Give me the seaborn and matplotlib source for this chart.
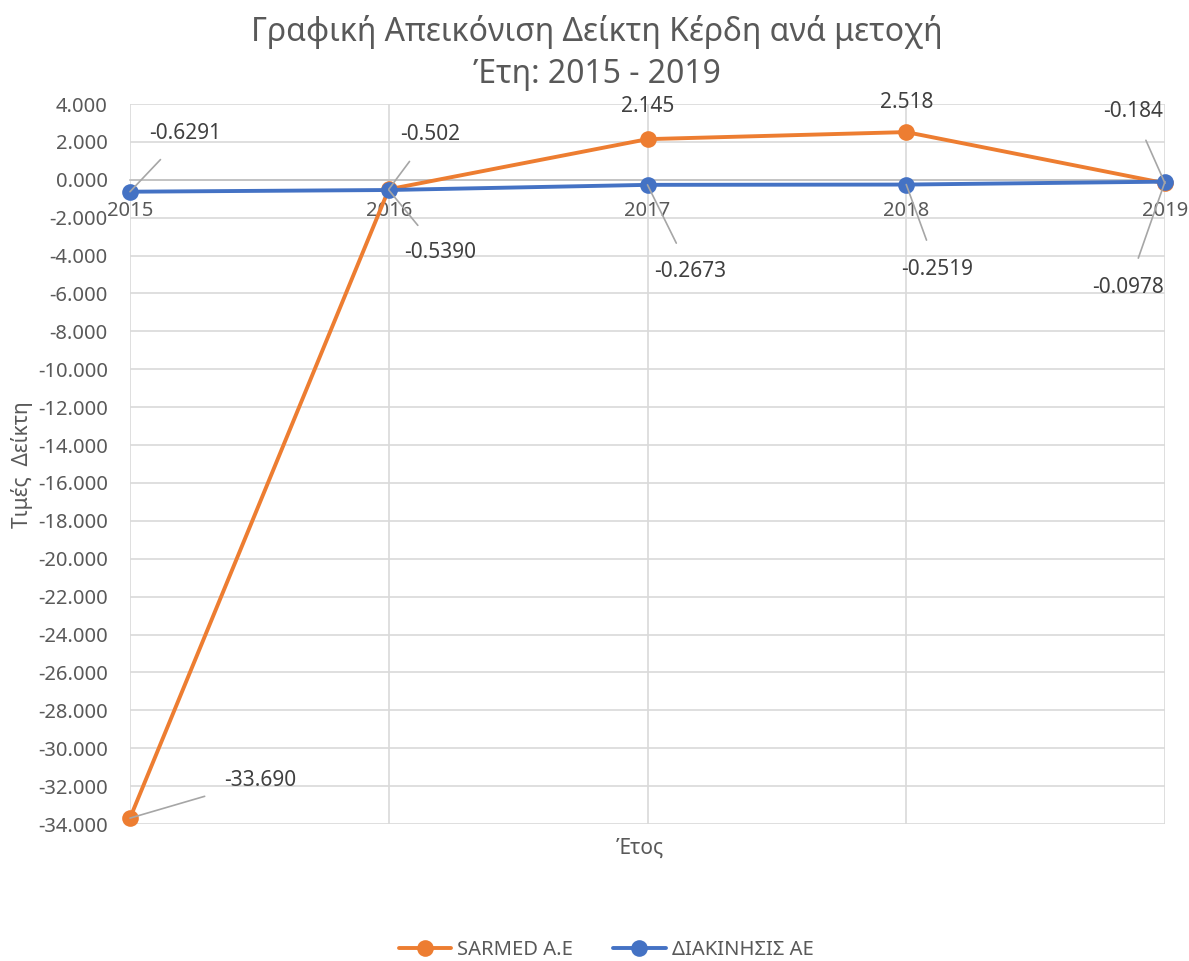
import numpy as np
import pandas as pd
import seaborn as sns
import matplotlib.pyplot as plt

years = ["2015", "2016", "2017", "2018", "2019"]
sarmed = [-33.690, -0.502, 2.145, 2.518, -0.184]
diakinisis = [-0.6291, -0.5390, -0.2673, -0.2519, -0.0978]
sarmed_labels = ["-33.690", "-0.502", "2.145", "2.518", "-0.184"]
diakinisis_labels = ["-0.6291", "-0.5390", "-0.2673", "-0.2519", "-0.0978"]
series_names = ["SARMED A.E", "ΔΙΑΚΙΝΗΣΙΣ ΑΕ"]

# label offsets in pixels (dx, dy) and whether a leader line is drawn
sarmed_offsets = [(130, 38, True), (41, 55, True), (0, 33, False), (0, 30, False), (-32, 72, True)]
diak_offsets = [(55, 58, True), (51, -62, True), (43, -87, True), (31, -85, True), (-37, -106, True)]

grey = "#595959"
orange = "#ED7D31"
blue = "#4472C4"

df = pd.DataFrame({
    "x": list(range(len(years))) * 2,
    "value": sarmed + diakinisis,
    "series": [series_names[0]] * len(years) + [series_names[1]] * len(years),
})

sns.set_style("white")
plt.rcParams["font.family"] = ["Noto Sans", "DejaVu Sans"]

fig = plt.figure(figsize=(11.89, 9.61), dpi=100)
ax = fig.add_axes([130 / 1189, 137 / 961, 1035 / 1189, 720 / 961])

sns.lineplot(data=df, x="x", y="value", hue="series", palette=[orange, blue],
             marker="o", markersize=12, markeredgewidth=0, linewidth=2.8,
             ax=ax, clip_on=False, zorder=3)

ax.set_xlim(0, len(years) - 1)
ax.set_ylim(-34, 4)
ax.set_yticks(np.arange(-34, 5, 2))
ax.set_yticklabels([f"{v:.3f}" for v in np.arange(-34, 5, 2)])
ax.set_xticks(range(len(years)))
ax.set_xticklabels(years)
ax.grid(True, color="#D9D9D9", linewidth=1.2, zorder=0)
ax.set_axisbelow(True)
for s in ["top", "left", "right"]:
    ax.spines[s].set_visible(False)
ax.spines["bottom"].set_position(("data", 0))
ax.spines["bottom"].set_color("#BFBFBF")
ax.spines["bottom"].set_linewidth(1.2)
ax.tick_params(axis="both", length=0, labelsize=14.5, labelcolor=grey)
ax.tick_params(axis="x", pad=15)
ax.tick_params(axis="y", pad=16)

ax.set_xlabel("")
ax.set_ylabel("")
fig.text(640 / 1189, 1 - 848 / 961, "Έτος", ha="center", va="center", fontsize=15, color=grey)
fig.text(22 / 1189, 1 - 465 / 961, "Τιμές  Δείκτη", ha="center", va="center",
         rotation=90, fontsize=15, color=grey)
fig.text(597 / 1189, 1 - 53 / 961, "Γραφική Απεικόνιση Δείκτη Κέρδη ανά μετοχή\nΈτη: 2015 - 2019",
         ha="center", va="center", fontsize=23, color=grey, linespacing=1.38)

for vals, labels, offs in [(sarmed, sarmed_labels, sarmed_offsets),
                           (diakinisis, diakinisis_labels, diak_offsets)]:
    for i, (v, lab, (dx, dy, lead)) in enumerate(zip(vals, labels, offs)):
        arrow = dict(arrowstyle="-", color="#A6A6A6", lw=1.2, shrinkA=12, shrinkB=0) if lead else None
        ax.annotate(lab, xy=(i, v), xytext=(dx, dy), textcoords="offset pixels",
                    ha="center", va="center", fontsize=15, color="#404040",
                    arrowprops=arrow, zorder=5, annotation_clip=False)

sns.move_legend(ax, "center", bbox_to_anchor=(606 / 1189, 1 - 950 / 961),
                bbox_transform=fig.transFigure, ncol=2, frameon=False, title=None,
                fontsize=14.5, handlelength=2.6, handletextpad=0.3, columnspacing=2.0,
                labelcolor=grey)

fig.savefig("out.png", dpi=100)
